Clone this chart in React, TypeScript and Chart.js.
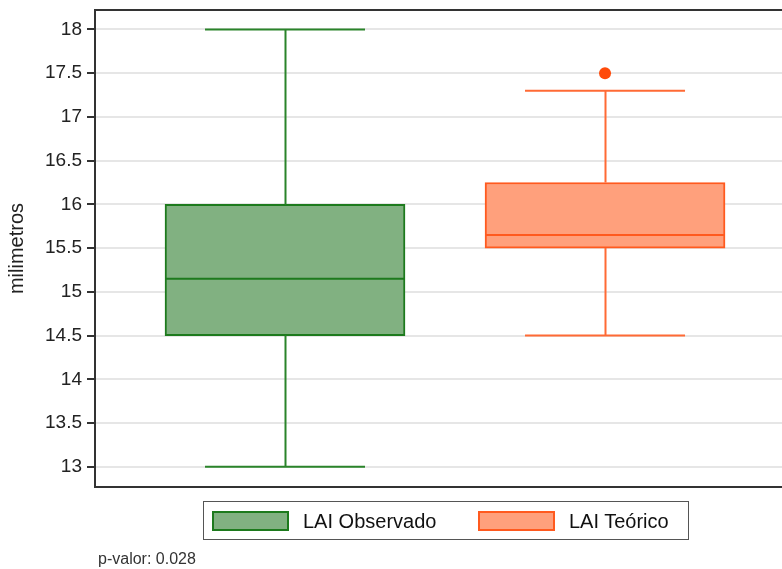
import React, { useEffect, useRef } from "react";
import { Chart, registerables } from "chart.js";

Chart.register(...registerables);

// Box-plot summary for each group
const groups = ["LAI Observado", "LAI Teórico"];
const positions = [1, 2];
const lowerWhisker = [13, 14.5];
const q1 = [14.5, 15.5];
const median = [15.15, 15.65];
const q3 = [16, 16.25];
const upperWhisker = [18, 17.3];
const outlierValues = [[], [17.5]];

const yTicks = [13, 13.5, 14, 14.5, 15, 15.5, 16, 16.5, 17, 17.5, 18];
const yTitle = "milimetros";
const pValue = "p-valor: 0.028";

const fillColors = ["#81b181", "#ffa07c"];
const lineColors = ["#1d7a1d", "#ff5a1f"];
const whiskerColors = ["#2a842a", "#ff6a35"];
const outlierColor = "#ff4a0a";

const FONT = "'Liberation Sans', Arial, sans-serif";

// Whiskers, caps and median lines, placed with the chart's scales
const boxDetails = {
  id: "boxDetails",
  afterDatasetsDraw(chart: any) {
    const { ctx, scales } = chart;
    const xs = scales.x;
    const ys = scales.y;
    ctx.save();
    positions.forEach((pos, i) => {
      const cx = Math.round(xs.getPixelForValue(pos)) + 0.5;
      const capL = xs.getPixelForValue(pos - 0.25);
      const capR = xs.getPixelForValue(pos + 0.25);
      const boxL = xs.getPixelForValue(pos - 0.375);
      const boxR = xs.getPixelForValue(pos + 0.375);
      const yLo = ys.getPixelForValue(lowerWhisker[i]);
      const yHi = ys.getPixelForValue(upperWhisker[i]);
      const yQ1 = ys.getPixelForValue(q1[i]);
      const yQ3 = ys.getPixelForValue(q3[i]);
      const yMed = ys.getPixelForValue(median[i]);

      ctx.strokeStyle = whiskerColors[i];
      ctx.lineWidth = 2;
      ctx.beginPath();
      ctx.moveTo(cx, yQ3);
      ctx.lineTo(cx, yHi);
      ctx.moveTo(capL, yHi);
      ctx.lineTo(capR, yHi);
      ctx.moveTo(cx, yQ1);
      ctx.lineTo(cx, yLo);
      ctx.moveTo(capL, yLo);
      ctx.lineTo(capR, yLo);
      ctx.stroke();

      ctx.strokeStyle = lineColors[i];
      ctx.lineWidth = 2;
      ctx.beginPath();
      ctx.moveTo(boxL + 1, yMed);
      ctx.lineTo(boxR - 1, yMed);
      ctx.stroke();
    });
    ctx.restore();
  },
};

// Top and bottom lines of the plot frame
const frame = {
  id: "frame",
  afterDraw(chart: any) {
    const { ctx, chartArea } = chart;
    ctx.save();
    ctx.strokeStyle = "#333333";
    ctx.lineWidth = 2;
    ctx.beginPath();
    ctx.moveTo(chartArea.left - 1, chartArea.top);
    ctx.lineTo(chartArea.right, chartArea.top);
    ctx.moveTo(chartArea.left - 1, chartArea.bottom);
    ctx.lineTo(chartArea.right, chartArea.bottom);
    ctx.stroke();
    ctx.restore();
  },
};

export default function App() {
  const canvasRef = useRef<HTMLCanvasElement>(null);

  useEffect(() => {
    const canvas = canvasRef.current;
    if (!canvas) return;

    const boxSets = groups.map((g, i) => ({
      type: "bar" as const,
      label: g,
      data: [{ x: positions[i], y: [q1[i], q3[i]] }],
      backgroundColor: fillColors[i],
      borderColor: lineColors[i],
      borderWidth: 2,
      borderSkipped: false,
      barThickness: 240,
      grouped: false,
      order: 2,
    }));

    const outlierSet = {
      type: "scatter" as const,
      label: "outliers",
      data: outlierValues.flatMap((vals, i) => vals.map((v) => ({ x: positions[i], y: v }))),
      backgroundColor: outlierColor,
      borderWidth: 0,
      pointRadius: 6,
      order: 1,
    };

    const chart = new Chart(canvas, {
      type: "bar",
      data: { datasets: [...boxSets, outlierSet] as any },
      options: {
        animation: false,
        responsive: false,
        layout: { autoPadding: false, padding: { top: 10, right: 0, bottom: 82, left: 0 } },
        plugins: {
          legend: { display: false },
          tooltip: { enabled: false },
        },
        scales: {
          x: {
            type: "linear",
            min: 0.40625,
            max: 2.553,
            offset: false,
            display: false,
          },
          y: {
            type: "linear",
            min: 12.768,
            max: 18.223,
            afterFit: (scale: any) => {
              scale.width = 95;
              scale.paddingTop = 0;
              scale.paddingBottom = 0;
            },
            afterBuildTicks: (scale: any) => {
              scale.ticks = yTicks.map((v) => ({ value: v }));
            },
            ticks: {
              color: "#222222",
              font: { family: FONT, size: 19 },
              padding: 5,
              callback: (v: any) => String(v),
            },
            grid: {
              color: "#e6e6e6",
              lineWidth: 2,
              tickColor: "#333333",
              tickLength: 8,
              tickWidth: 2,
            },
            border: { color: "#333333", width: 2 },
            title: {
              display: true,
              text: yTitle,
              color: "#222222",
              font: { family: FONT, size: 20 },
              padding: { top: 5, bottom: 0 },
            },
          },
        },
      },
      plugins: [boxDetails, frame],
    });

    return () => chart.destroy();
  }, []);

  const swatch = (i: number, left: number) => (
    <div
      style={{
        position: "absolute",
        left,
        top: 511,
        width: 77,
        height: 20,
        boxSizing: "border-box",
        background: fillColors[i],
        border: `2px solid ${lineColors[i]}`,
      }}
    />
  );

  const label = (text: string, left: number) => (
    <div
      style={{
        position: "absolute",
        left,
        top: 509,
        height: 24,
        lineHeight: "24px",
        fontFamily: FONT,
        fontSize: 20,
        color: "#111111",
        whiteSpace: "nowrap",
      }}
    >
      {text}
    </div>
  );

  return (
    <div
      style={{
        position: "fixed",
        left: 0,
        top: 0,
        width: 782,
        height: 569,
        background: "#ffffff",
        overflow: "hidden",
      }}
    >
      <canvas ref={canvasRef} width={782} height={569} style={{ display: "block" }} />
      <div
        style={{
          position: "absolute",
          left: 203,
          top: 501,
          width: 486,
          height: 39,
          boxSizing: "border-box",
          border: "1.5px solid #555555",
        }}
      />
      {swatch(0, 212)}
      {label(groups[0], 303)}
      {swatch(1, 478)}
      {label(groups[1], 569)}
      <div
        style={{
          position: "absolute",
          left: 98,
          top: 550,
          fontFamily: FONT,
          fontSize: 16,
          color: "#333333",
          whiteSpace: "nowrap",
        }}
      >
        {pValue}
      </div>
    </div>
  );
}
